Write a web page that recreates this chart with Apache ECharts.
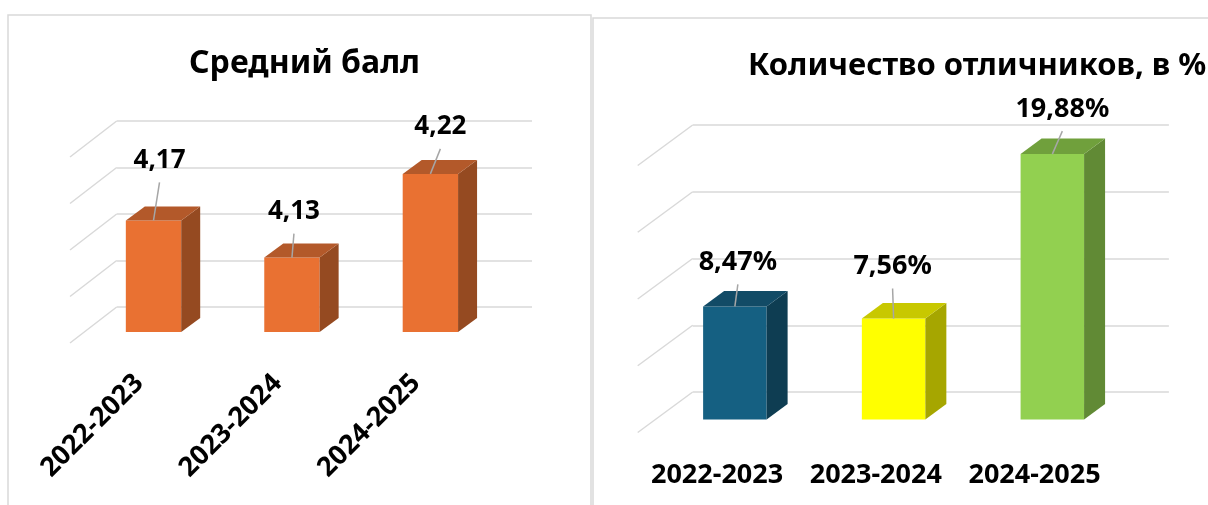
<!DOCTYPE html>
<html>
<head>
<meta charset="utf-8">
<script src="https://cdn.jsdelivr.net/npm/echarts@6/dist/echarts.min.js"></script>
<style>
    html, body { margin: 0; padding: 0; background: #fff; overflow: hidden; }
    #chart { width: 1208px; height: 505px; }
</style>
</head>
<body>
<div id="chart"></div>
<script>
    // данные
    var years = ['2022-2023', '2023-2024', '2024-2025'];
    var avgScore = [4.17, 4.13, 4.22];
    var excellentPct = [8.47, 7.56, 19.88];
    var leftTitle = 'Средний балл';
    var rightTitle = 'Количество отличников, в %';

    var FONT = '"Noto Sans", "Open Sans", sans-serif';
    var GRID_COLOR = '#d9d9d9';

    // цвета граней: [перед, верх, бок]
    var orange = ['#e97132', '#b3592a', '#954a21'];
    var rightColors = [
        ['#156082', '#124b66', '#0e3d52'],
        ['#ffff00', '#c8c800', '#a6a600'],
        ['#92d050', '#70a03c', '#618a35']
    ];

    // ручной сдвиг подписей значений (как в исходной диаграмме)
    var leftNudge = [[6, -60], [2, -46], [10, -47]];
    var rightNudge = [[3, -44], [-1, -52], [10, -45]];

    function fmtNum(v) { return v.toFixed(2).replace('.', ','); }

    function boxRender(o) {
        return function (params, api) {
            var i = api.value(0), v = api.value(1);
            var back = api.coord([i, v]);
            var base = api.coord([i, o.min]);
            var bw = api.size([1, 0])[0] * 0.4;
            var cx = back[0] + o.ox, top = back[1] + o.oy, bot = base[1] + o.oy;
            var x0 = cx - bw / 2, x1 = cx + bw / 2;
            var c = o.colors[i];
            var nd = o.nudge[i];
            var lx = cx + nd[0], ly = top + nd[1];
            var fx = base[0] + o.fx, fy = base[1] + o.fy;
            var children = [
                {type: 'rect', shape: {x: x0, y: top, width: bw, height: bot - top}, style: {fill: c[0]}},
                {type: 'polygon', shape: {points: [[x1, top], [x1 + o.dx, top + o.dy], [x1 + o.dx, bot + o.dy], [x1, bot]]}, style: {fill: c[2]}},
                {type: 'polygon', shape: {points: [[x0, top], [x0 + o.dx, top + o.dy], [x1 + o.dx, top + o.dy], [x1, top]]}, style: {fill: c[1]}},
                {type: 'line', shape: {x1: lx, y1: ly + 22, x2: cx, y2: top}, style: {stroke: '#a6a6a6', lineWidth: 1.5}},
                {type: 'text', style: {text: o.fmt(v), x: lx, y: ly, align: 'center', verticalAlign: 'middle',
                    font: 'bold ' + o.valSize + 'px ' + FONT, fill: '#000'}}
            ];
            if (o.rotate) {
                children.push({type: 'text', x: fx, y: fy + o.labDy, rotation: Math.PI / 4,
                    style: {text: years[i], x: 0, y: 0, align: 'right', verticalAlign: 'middle',
                        font: 'bold ' + o.catSize + 'px ' + FONT, fill: '#000'}});
            } else {
                children.push({type: 'text', style: {text: years[i], x: fx, y: fy + o.labDy, align: 'center', verticalAlign: 'middle',
                    font: 'bold ' + o.catSize + 'px ' + FONT, fill: '#000'}});
            }
            return {type: 'group', children: children};
        };
    }

    function diagRender(o) {
        return function (params, api) {
            var y = api.coord([0, api.value(1)])[1];
            var x = params.coordSys.x;
            return {type: 'line', shape: {x1: x, y1: y, x2: x + o.fx, y2: y + o.fy},
                style: {stroke: GRID_COLOR, lineWidth: 1.5}};
        };
    }

    function ticks(min, max, step) {
        var out = [];
        for (var k = 0; min + k * step <= max + 1e-9; k++) out.push([0, +(min + k * step).toFixed(4)]);
        return out;
    }

    var L = {min: 4.05, max: 4.25, step: 0.05, ox: -32.4, oy: 25, dx: 19, dy: -14, fx: -46.7, fy: 36,
        colors: [orange, orange, orange], nudge: leftNudge, fmt: fmtNum, valSize: 26, catSize: 27, rotate: true, labDy: 36};
    var R = {min: 0, max: 20, step: 5, ox: -37.2, oy: 27.5, dx: 21, dy: -15.5, fx: -55, fy: 40.5,
        colors: rightColors, nudge: rightNudge, fmt: function (v) { return fmtNum(v) + '%'; }, valSize: 27, catSize: 27, rotate: false, labDy: 43};

    var myChart = echarts.init(document.getElementById('chart'), null, {renderer: 'canvas'});

    var charts_option = {};
    charts_option['animation'] = false;
    charts_option['textStyle'] = {fontFamily: FONT};
    charts_option['title'] = [
        {text: leftTitle, left: 299.5, top: 41, textAlign: 'center',
            textStyle: {fontSize: 32, fontWeight: 'bold', color: '#000', fontFamily: FONT, lineHeight: 36}},
        {text: rightTitle, left: 743, top: 43,
            textStyle: {fontSize: 31, fontWeight: 'bold', color: '#000', fontFamily: FONT, lineHeight: 36}}
    ];
    charts_option['graphic'] = [
        {type: 'rect', shape: {x: 8, y: 15, width: 583, height: 600}, style: {fill: null, stroke: GRID_COLOR, lineWidth: 1.5}, silent: true},
        {type: 'rect', shape: {x: 593, y: 18, width: 700, height: 600}, style: {fill: null, stroke: GRID_COLOR, lineWidth: 1.5}, silent: true}
    ];
    charts_option['grid'] = [
        {left: 116.7, top: 121, width: 415.3, height: 186},
        {left: 692.7, top: 125, width: 476.2, height: 267}
    ];
    var catAxis = {type: 'category', data: years, axisLine: {show: false}, axisTick: {show: false}, axisLabel: {show: false}, splitLine: {show: false}};
    charts_option['xAxis'] = [
        Object.assign({gridIndex: 0}, catAxis),
        Object.assign({gridIndex: 1}, catAxis)
    ];
    var valSplit = {show: true, lineStyle: {color: GRID_COLOR, width: 1.5}};
    charts_option['yAxis'] = [
        {type: 'value', gridIndex: 0, min: L.min, max: L.max, interval: L.step, axisLine: {show: false}, axisTick: {show: false}, axisLabel: {show: false}, splitLine: valSplit},
        {type: 'value', gridIndex: 1, min: R.min, max: R.max, interval: R.step, axisLine: {show: false}, axisTick: {show: false}, axisLabel: {show: false}, splitLine: valSplit}
    ];
    charts_option['series'] = [
        {type: 'custom', xAxisIndex: 0, yAxisIndex: 0, clip: false, silent: true, z: 1,
            renderItem: diagRender(L), data: ticks(L.min, L.max, L.step)},
        {type: 'custom', xAxisIndex: 1, yAxisIndex: 1, clip: false, silent: true, z: 1,
            renderItem: diagRender(R), data: ticks(R.min, R.max, R.step)},
        {type: 'custom', name: leftTitle, xAxisIndex: 0, yAxisIndex: 0, clip: false, silent: true, z: 3,
            renderItem: boxRender(L), data: avgScore.map(function (v, i) { return [i, v]; })},
        {type: 'custom', name: rightTitle, xAxisIndex: 1, yAxisIndex: 1, clip: false, silent: true, z: 3,
            renderItem: boxRender(R), data: excellentPct.map(function (v, i) { return [i, v]; })}
    ];
    myChart.setOption(charts_option);
</script>
</body>
</html>
